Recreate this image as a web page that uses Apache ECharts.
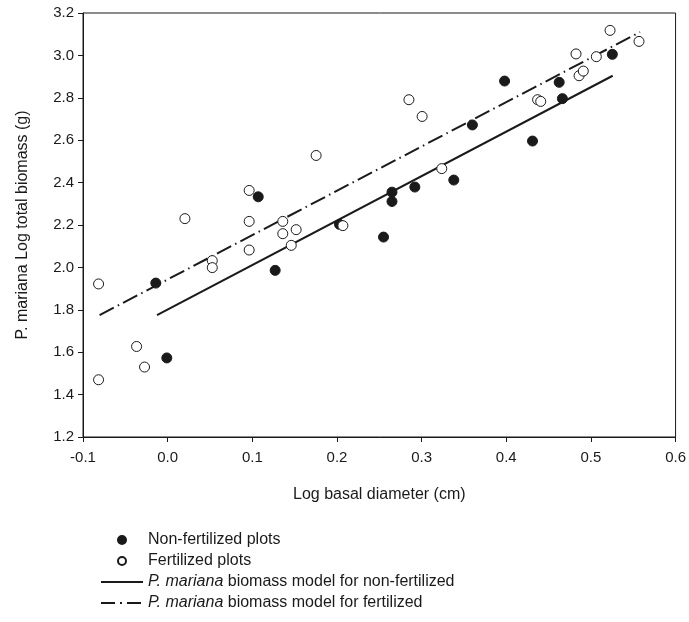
<!DOCTYPE html>
<html>
<head>
<meta charset="utf-8">
<script src="https://cdn.jsdelivr.net/npm/echarts@6/dist/echarts.min.js"></script>
<style>
  html, body { margin: 0; padding: 0; background: #ffffff; }
  #chart { width: 689px; height: 622px; }
</style>
</head>
<body>
<div id="chart"></div>
<script>
// ---- Data ----
var nonFertX = [0.107, -0.014, -0.001, 0.127, 0.203, 0.255, 0.265, 0.265, 0.292, 0.338, 0.360, 0.398, 0.431, 0.4625, 0.4663, 0.5253];
var nonFertY = [2.333, 1.926, 1.573, 1.986, 2.203, 2.143, 2.355, 2.311, 2.379, 2.412, 2.672, 2.879, 2.596, 2.873, 2.796, 3.005];

var fertX = [-0.0816, -0.0816, -0.0367, -0.0273, 0.0204, 0.0527, 0.0527, 0.0963, 0.0963, 0.0963, 0.136, 0.136, 0.1518, 0.146, 0.1754, 0.207, 0.285, 0.3006, 0.3238, 0.437, 0.4407, 0.4824, 0.486, 0.491, 0.5064, 0.5226, 0.5568];
var fertY = [1.922, 1.470, 1.627, 1.530, 2.230, 2.032, 1.999, 2.363, 2.217, 2.082, 2.217, 2.159, 2.178, 2.104, 2.528, 2.197, 2.791, 2.712, 2.466, 2.791, 2.783, 3.007, 2.904, 2.926, 2.994, 3.118, 3.066];

// model lines (end points)
var modelNonFertX = [-0.0126, 0.5257];
var modelNonFertY = [1.775, 2.904];
var modelFertX = [-0.0804, 0.558];
var modelFertY = [1.775, 3.110];

var seriesNames = [
  'Non-fertilized plots',
  'Fertilized plots',
  'P. mariana biomass model for non-fertilized',
  'P. mariana biomass model for fertilized'
];

var xTitle = 'Log basal diameter (cm)';
var yTitle = 'P. mariana Log total biomass (g)';

function zip(xs, ys) {
  var out = [];
  for (var i = 0; i < xs.length; i++) out.push([xs[i], ys[i]]);
  return out;
}

var ink = '#1a1a1a';
var fontFamily = '"Liberation Sans", Arial, sans-serif';
var dashDot = [16, 4.5, 1.5, 4.5];

var chart = echarts.init(document.getElementById('chart'), null, { renderer: 'canvas' });

chart.setOption({
  animation: false,
  backgroundColor: '#ffffff',
  textStyle: { fontFamily: fontFamily, color: ink },
  grid: {
    left: 83, right: 13, top: 13, bottom: 185,
    show: true, borderColor: ink, borderWidth: 1, backgroundColor: 'transparent'
  },
  xAxis: {
    type: 'value',
    min: -0.1, max: 0.6, interval: 0.1,
    name: xTitle,
    nameLocation: 'middle',
    nameGap: 50,
    nameTextStyle: { fontSize: 16, color: ink, fontFamily: fontFamily },
    axisLine: { show: true, onZero: false, lineStyle: { color: ink, width: 1 } },
    axisTick: { show: true, inside: false, length: 5, lineStyle: { color: ink } },
    axisLabel: { fontSize: 15, color: ink, margin: 13, formatter: function (v) { return v.toFixed(1); } },
    splitLine: { show: false }
  },
  yAxis: {
    type: 'value',
    min: 1.2, max: 3.2, interval: 0.2,
    name: yTitle,
    nameLocation: 'middle',
    nameGap: 52,
    nameTextStyle: { fontSize: 16, color: ink, fontFamily: fontFamily },
    axisLine: { show: true, onZero: false, lineStyle: { color: ink, width: 1 } },
    axisTick: { show: true, inside: false, length: 5, lineStyle: { color: ink } },
    axisLabel: { fontSize: 15, color: ink, margin: 9, formatter: function (v) { return v.toFixed(1); } },
    splitLine: { show: false }
  },
  legend: {
    orient: 'vertical',
    left: 95,
    top: 527,
    itemWidth: 42,
    itemHeight: 8,
    itemGap: 5,
    selectedMode: false,
    textStyle: {
      fontSize: 16, color: ink, fontFamily: fontFamily,
      rich: { i: { fontStyle: 'italic', fontSize: 16, color: ink, fontFamily: fontFamily } }
    },
    formatter: function (name) {
      if (name.indexOf('P. mariana') === 0) {
        return '{i|P. mariana}' + name.slice('P. mariana'.length);
      }
      return name;
    },
    data: [
      { name: seriesNames[0] },
      { name: seriesNames[1] },
      { name: seriesNames[2], itemStyle: { opacity: 0 }, lineStyle: { color: ink, width: 2, type: 'solid', opacity: 1 } },
      { name: seriesNames[3], itemStyle: { opacity: 0 }, lineStyle: { color: ink, width: 2, type: [14, 5, 2, 5], opacity: 1 } }
    ]
  },
  series: [
    {
      name: seriesNames[2],
      type: 'line',
      data: zip(modelNonFertX, modelNonFertY),
      symbol: 'none',
      lineStyle: { color: ink, width: 2, type: 'solid' },
      itemStyle: { color: ink },
      z: 2
    },
    {
      name: seriesNames[3],
      type: 'line',
      data: zip(modelFertX, modelFertY),
      symbol: 'none',
      lineStyle: { color: ink, width: 2, type: dashDot },
      itemStyle: { color: ink },
      z: 2
    },
    {
      name: seriesNames[0],
      type: 'scatter',
      data: zip(nonFertX, nonFertY),
      symbol: 'circle',
      symbolSize: 10,
      itemStyle: { color: ink, borderColor: ink, borderWidth: 1, opacity: 1 },
      z: 3
    },
    {
      name: seriesNames[1],
      type: 'scatter',
      data: zip(fertX, fertY),
      symbol: 'circle',
      symbolSize: 10,
      itemStyle: { color: '#ffffff', borderColor: ink, borderWidth: 1, opacity: 1 },
      z: 4
    }
  ]
});
</script>
</body>
</html>
